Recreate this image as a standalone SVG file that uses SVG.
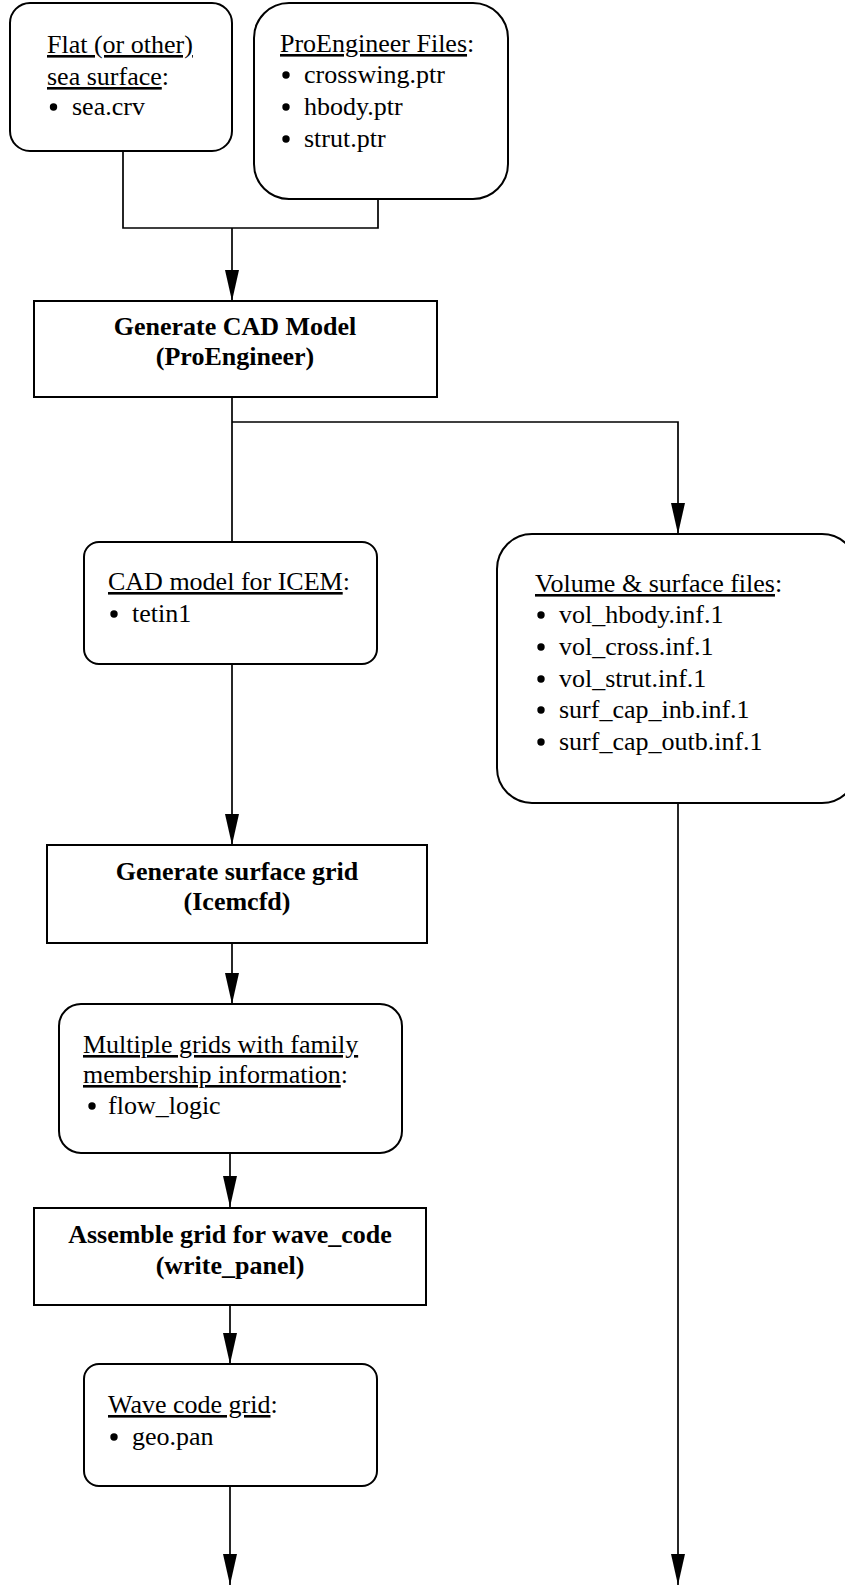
<svg xmlns="http://www.w3.org/2000/svg" width="845" height="1585" viewBox="0 0 845 1585">
<style>
.box{fill:#fff;stroke:#000;stroke-width:2}
.t{font-family:"Liberation Serif","Times New Roman",serif;font-size:26px;fill:#000}
.b{font-weight:bold;text-anchor:middle}
.u{text-decoration:underline;text-decoration-thickness:2px;text-underline-offset:3px}
.dot{fill:#000}
.c{fill:none;stroke:#000;stroke-width:1.7}
</style>
<defs>
<marker id="ah" markerUnits="userSpaceOnUse" markerWidth="32" markerHeight="14" viewBox="0 0 32 14" refX="31" refY="7" orient="auto">
<path d="M0,0 L31,7 L0,14 Z" fill="#000"/>
</marker>
</defs>
<rect width="845" height="1585" fill="#fff"/>
<g id="connectors">
<path class="c" d="M123,151 V228 H378 V199"/>
<path class="c" d="M232,228 V301" marker-end="url(#ah)"/>
<path class="c" d="M232,397 V542"/>
<path class="c" d="M232,422 H678 V534" marker-end="url(#ah)"/>
<path class="c" d="M232,664 V845" marker-end="url(#ah)"/>
<path class="c" d="M232,943 V1004" marker-end="url(#ah)"/>
<path class="c" d="M230,1153 V1207" marker-end="url(#ah)"/>
<path class="c" d="M230,1305 V1364" marker-end="url(#ah)"/>
<path class="c" d="M230,1486 V1585" marker-end="url(#ah)"/>
<path class="c" d="M678,803 V1585" marker-end="url(#ah)"/>
</g>
<g id="sea">
<rect class="box" x="10" y="3" width="222" height="148" rx="20"/>
<text class="t" x="47" y="53"><tspan class="u">Flat (or other)</tspan></text>
<text class="t" x="47" y="85"><tspan class="u">sea surface</tspan>:</text>
<circle class="dot" cx="53.5" cy="107" r="3.7"/><text class="t" x="72" y="115">sea.crv</text>
</g>
<g id="proeng">
<rect class="box" x="254" y="3" width="254" height="196" rx="35"/>
<text class="t" x="280" y="52"><tspan class="u">ProEngineer Files</tspan>:</text>
<circle class="dot" cx="286" cy="75" r="3.7"/><text class="t" x="304" y="83">crosswing.ptr</text>
<circle class="dot" cx="286" cy="107" r="3.7"/><text class="t" x="304" y="115">hbody.ptr</text>
<circle class="dot" cx="286" cy="139" r="3.7"/><text class="t" x="304" y="147">strut.ptr</text>
</g>
<g id="cadmodel">
<rect class="box" x="34" y="301" width="403" height="96"/>
<text class="t b" x="235" y="335">Generate CAD Model</text>
<text class="t b" x="235" y="365">(ProEngineer)</text>
</g>
<g id="icem">
<rect class="box" x="84" y="542" width="293" height="122" rx="15"/>
<text class="t" x="108" y="590"><tspan class="u">CAD model for ICEM</tspan>:</text>
<circle class="dot" cx="114" cy="614" r="3.7"/><text class="t" x="132" y="622">tetin1</text>
</g>
<g id="volume">
<rect class="box" x="497" y="534" width="360" height="269" rx="35"/>
<text class="t" x="535" y="592"><tspan class="u">Volume &amp; surface files</tspan>:</text>
<circle class="dot" cx="541" cy="615" r="3.7"/><text class="t" x="559" y="623">vol_hbody.inf.1</text>
<circle class="dot" cx="541" cy="647" r="3.7"/><text class="t" x="559" y="655">vol_cross.inf.1</text>
<circle class="dot" cx="541" cy="679" r="3.7"/><text class="t" x="559" y="687">vol_strut.inf.1</text>
<circle class="dot" cx="541" cy="710" r="3.7"/><text class="t" x="559" y="718">surf_cap_inb.inf.1</text>
<circle class="dot" cx="541" cy="742" r="3.7"/><text class="t" x="559" y="750">surf_cap_outb.inf.1</text>
</g>
<g id="surfgrid">
<rect class="box" x="47" y="845" width="380" height="98"/>
<text class="t b" x="237" y="880">Generate surface grid</text>
<text class="t b" x="237" y="910">(Icemcfd)</text>
</g>
<g id="multigrid">
<rect class="box" x="59" y="1004" width="343" height="149" rx="22"/>
<text class="t" x="83" y="1053"><tspan class="u">Multiple grids with family</tspan></text>
<text class="t" x="83" y="1083"><tspan class="u">membership information</tspan>:</text>
<circle class="dot" cx="92" cy="1106" r="3.7"/><text class="t" x="108" y="1114">flow_logic</text>
</g>
<g id="assemble">
<rect class="box" x="34" y="1208" width="392" height="97"/>
<text class="t b" x="230" y="1243">Assemble grid for wave_code</text>
<text class="t b" x="230" y="1274">(write_panel)</text>
</g>
<g id="wavegrid">
<rect class="box" x="84" y="1364" width="293" height="122" rx="15"/>
<text class="t" x="108" y="1413"><tspan class="u">Wave code grid</tspan>:</text>
<circle class="dot" cx="114" cy="1437" r="3.7"/><text class="t" x="132" y="1445">geo.pan</text>
</g>
</svg>
